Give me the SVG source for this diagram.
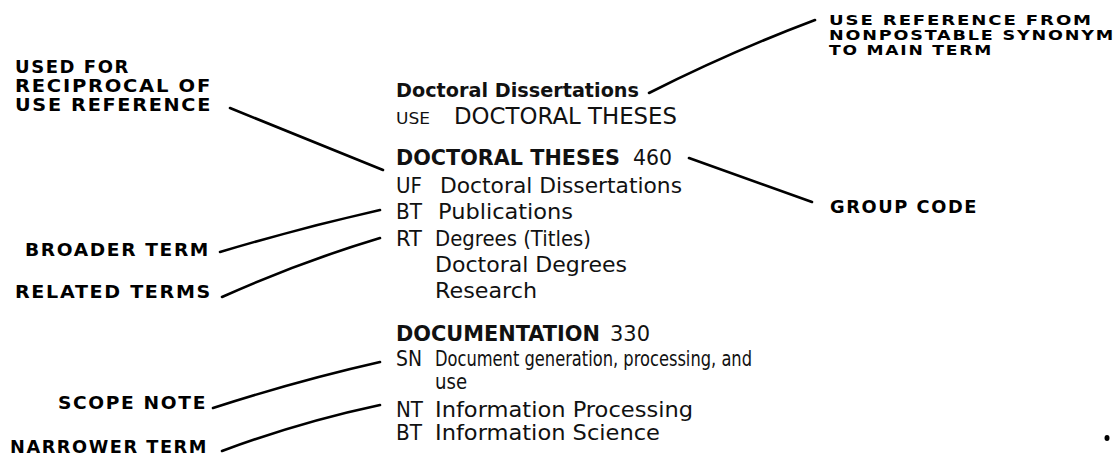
<svg xmlns="http://www.w3.org/2000/svg" width="1119" height="455" viewBox="0 0 1119 455">
<style>
.lbl{font-family:"DejaVu Sans","Liberation Sans",sans-serif;font-weight:bold;font-size:17px;letter-spacing:1.5px;fill:#000}
.rl{font-size:14.5px}
.t{font-family:"DejaVu Sans","Liberation Sans",sans-serif;font-size:21px;fill:#111}
.b{font-weight:bold}
.conn{fill:none;stroke:#000;stroke-width:2.6;stroke-linecap:round;stroke-linejoin:round}
</style>
<rect width="1119" height="455" fill="#fff"/>

<g id="connectors">
  <path class="conn" d="M230,108 L383,170"/>
  <path class="conn" d="M649,93 Q730,52 815,20"/>
  <path class="conn" d="M689,158 L812,202"/>
  <path class="conn" d="M220,252 Q300,228 380,210"/>
  <path class="conn" d="M222,297 Q300,262 380,238"/>
  <path class="conn" d="M213,408 Q300,380 380,362"/>
  <path class="conn" d="M222,451 Q300,422 380,405"/>
</g>

<g id="label-used-for">
  <text class="lbl" x="15" y="73" textLength="115" lengthAdjust="spacingAndGlyphs">USED FOR</text>
  <text class="lbl" x="15" y="92" textLength="197" lengthAdjust="spacingAndGlyphs">RECIPROCAL OF</text>
  <text class="lbl" x="15" y="111" textLength="197" lengthAdjust="spacingAndGlyphs">USE REFERENCE</text>
</g>
<g id="label-broader-term">
  <text class="lbl" x="25" y="256" textLength="185" lengthAdjust="spacingAndGlyphs">BROADER TERM</text>
</g>
<g id="label-related-terms">
  <text class="lbl" x="15" y="298" textLength="197" lengthAdjust="spacingAndGlyphs">RELATED TERMS</text>
</g>
<g id="label-scope-note">
  <text class="lbl" x="58" y="409" textLength="149" lengthAdjust="spacingAndGlyphs">SCOPE NOTE</text>
</g>
<g id="label-narrower-term">
  <text class="lbl" x="10" y="453" textLength="198" lengthAdjust="spacingAndGlyphs">NARROWER TERM</text>
</g>
<g id="label-use-reference">
  <text class="lbl rl" x="829" y="25" textLength="264" lengthAdjust="spacingAndGlyphs">USE REFERENCE FROM</text>
  <text class="lbl rl" x="829" y="40" textLength="286" lengthAdjust="spacingAndGlyphs">NONPOSTABLE SYNONYM</text>
  <text class="lbl rl" x="829" y="55" textLength="164" lengthAdjust="spacingAndGlyphs">TO MAIN TERM</text>
</g>
<g id="label-group-code">
  <text class="lbl" x="830" y="213" textLength="148" lengthAdjust="spacingAndGlyphs">GROUP CODE</text>
</g>

<g id="entry-doctoral-dissertations">
  <text class="t b" x="396" y="97" style="font-size:19px" textLength="243" lengthAdjust="spacingAndGlyphs">Doctoral Dissertations</text>
  <text class="t" x="396" y="124" style="font-size:15px" textLength="34" lengthAdjust="spacingAndGlyphs">USE</text>
  <text class="t" x="454" y="124" style="font-size:23px" textLength="223" lengthAdjust="spacingAndGlyphs">DOCTORAL THESES</text>
</g>

<g id="entry-doctoral-theses">
  <text class="t b" x="396" y="165" textLength="224" lengthAdjust="spacingAndGlyphs">DOCTORAL THESES</text>
  <text class="t" x="633" y="165" style="font-size:22px" textLength="39" lengthAdjust="spacingAndGlyphs">460</text>
  <text class="t" x="396" y="193" textLength="26" lengthAdjust="spacingAndGlyphs">UF</text>
  <text class="t" x="440" y="193" textLength="242" lengthAdjust="spacingAndGlyphs">Doctoral Dissertations</text>
  <text class="t" x="396" y="219" textLength="26" lengthAdjust="spacingAndGlyphs">BT</text>
  <text class="t" x="438" y="219" textLength="135" lengthAdjust="spacingAndGlyphs">Publications</text>
  <text class="t" x="396" y="246" textLength="26" lengthAdjust="spacingAndGlyphs">RT</text>
  <text class="t" x="435" y="246" textLength="156" lengthAdjust="spacingAndGlyphs">Degrees (Titles)</text>
  <text class="t" x="435" y="272" textLength="192" lengthAdjust="spacingAndGlyphs">Doctoral Degrees</text>
  <text class="t" x="435" y="298" textLength="102" lengthAdjust="spacingAndGlyphs">Research</text>
</g>

<g id="entry-documentation">
  <text class="t b" x="396" y="341" textLength="204" lengthAdjust="spacingAndGlyphs">DOCUMENTATION</text>
  <text class="t" x="610" y="341" textLength="40" lengthAdjust="spacingAndGlyphs">330</text>
  <text class="t" x="396" y="366" textLength="26" lengthAdjust="spacingAndGlyphs">SN</text>
  <text class="t" x="435" y="366" textLength="317" lengthAdjust="spacingAndGlyphs">Document generation, processing, and</text>
  <text class="t" x="435" y="389" textLength="32" lengthAdjust="spacingAndGlyphs">use</text>
  <text class="t" x="396" y="417" textLength="27" lengthAdjust="spacingAndGlyphs">NT</text>
  <text class="t" x="435" y="417" textLength="258" lengthAdjust="spacingAndGlyphs">Information Processing</text>
  <text class="t" x="396" y="440" textLength="26" lengthAdjust="spacingAndGlyphs">BT</text>
  <text class="t" x="435" y="440" textLength="225" lengthAdjust="spacingAndGlyphs">Information Science</text>
</g>

<ellipse cx="1107" cy="438" rx="2.5" ry="3" fill="#000"/>
</svg>
